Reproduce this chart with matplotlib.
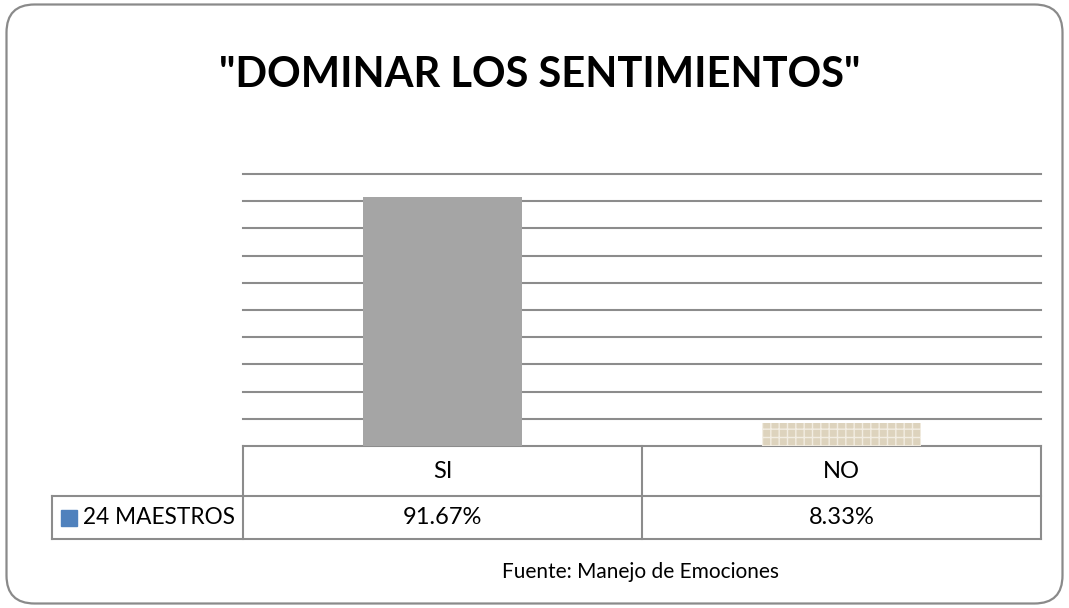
import matplotlib.pyplot as plt
from matplotlib.patches import FancyBboxPatch, Rectangle
from matplotlib.lines import Line2D

categorias = ["SI", "NO"]
valores = [0.9167, 0.0833]
etiquetas = ["91.67%", "8.33%"]
serie = "24 MAESTROS"
titulo = '"DOMINAR LOS SENTIMIENTOS"'
fuente = "Fuente: Manejo de Emociones"

plt.rcParams['font.family'] = ['Lato', 'DejaVu Sans']

fig = plt.figure(figsize=(10.69, 6.08), dpi=100)
W, H = 1069, 608

# rounded outer frame
frame = FancyBboxPatch((0.065, 0.045), 10.56, 5.99,
                       boxstyle="round,pad=0,rounding_size=0.28",
                       transform=fig.dpi_scale_trans, fill=False,
                       edgecolor='#8a8a8a', linewidth=1.6)
fig.patches.append(frame)

x0, x1 = 243, 1041
ybase, ytop = 446, 174
ax = fig.add_axes([x0 / W, 1 - ybase / H, (x1 - x0) / W, (ybase - ytop) / H])
x = range(len(categorias))
colores = ['#a5a5a5', '#ddd3bd']
bars = ax.bar(x, valores, width=0.4, color=colores, zorder=3)
bars[1].set_hatch('++')
bars[1].set_edgecolor('#f2ede2')
bars[1].set_linewidth(0)
ax.set_xlim(-0.5, len(categorias) - 0.5)
ax.set_ylim(0, 1)
for v in [i / 10 for i in range(1, 11)]:
    gl = ax.axhline(v, color='#8c8c8c', linewidth=1.5, zorder=1)
    gl.set_clip_on(False)
for s in ax.spines.values():
    s.set_visible(False)
ax.set_xticks([])
ax.set_yticks([])

# data table below the axes
lc = '#8c8c8c'
left = (52 - x0) / (x1 - x0)
r1 = -(496 - ybase) / (ybase - ytop)
r2 = -(539 - ybase) / (ybase - ytop)
n = len(categorias)
kw = dict(transform=ax.transAxes, color=lc, linewidth=1.5, clip_on=False)
ax.add_line(Line2D([0, 1], [0, 0], **kw))
ax.add_line(Line2D([left, 1], [r1, r1], **kw))
ax.add_line(Line2D([left, 1], [r2, r2], **kw))
ax.add_line(Line2D([left, left], [r1, r2], **kw))
for i in range(n + 1):
    ax.add_line(Line2D([i / n, i / n], [0, r2], **kw))
for i, (c, e) in enumerate(zip(categorias, etiquetas)):
    xc = (i + 0.5) / n
    ax.text(xc, r1 / 2, c, transform=ax.transAxes, ha='center', va='center', fontsize=17)
    ax.text(xc, (r1 + r2) / 2, e, transform=ax.transAxes, ha='center', va='center', fontsize=17)
sq = 16 / (x1 - x0)
ax.add_patch(Rectangle((left + 9 / (x1 - x0), (r1 + r2) / 2 - 8 / (ybase - ytop)), sq,
                       16 / (ybase - ytop), transform=ax.transAxes,
                       color='#4f81bd', clip_on=False))
ax.text(left + 31 / (x1 - x0), (r1 + r2) / 2, serie, transform=ax.transAxes,
        ha='left', va='center', fontsize=16.3)

fig.text(540 / W, 1 - 75 / H, titulo, ha='center', va='center',
         fontsize=30, fontweight='bold')
fig.text(640 / W, 1 - 572 / H, fuente, ha='center', va='center', fontsize=15)

fig.savefig('out.png', dpi=100)
